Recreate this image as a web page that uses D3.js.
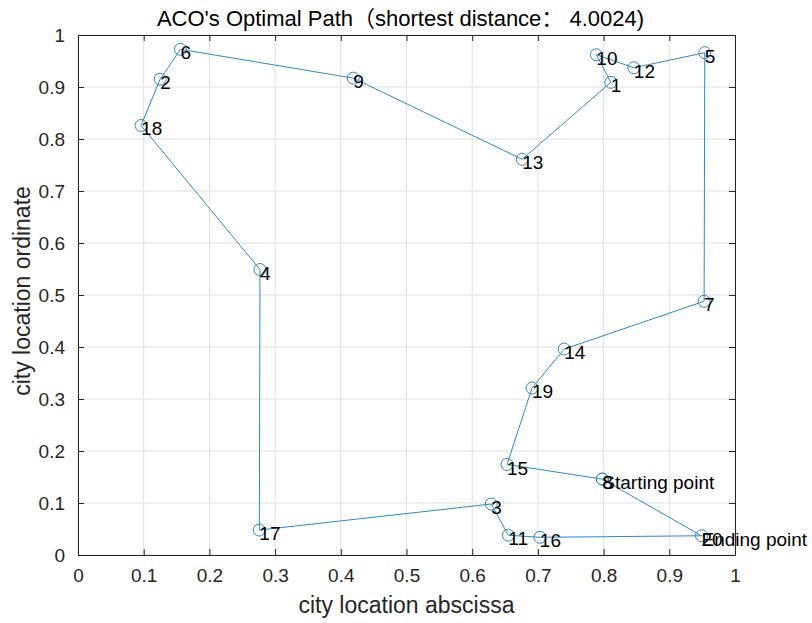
<!DOCTYPE html>
<html>
<head>
<meta charset="utf-8">
<script src="https://cdn.jsdelivr.net/npm/d3@7"></script>
<style>
  html, body { margin: 0; padding: 0; background: #fff; }
  svg { display: block; font-family: "Liberation Sans", Arial, "Noto Sans CJK SC", sans-serif; }
</style>
</head>
<body>
<svg id="chart" width="812" height="623"></svg>
<script>
// City ids and coordinates
const cityIds = [1, 2, 3, 4, 5, 6, 7, 8, 9, 10, 11, 12, 13, 14, 15, 16, 17, 18, 19, 20];
const cityX = [0.811, 0.125, 0.629, 0.277, 0.954, 0.156, 0.953, 0.798, 0.419, 0.789,
               0.655, 0.846, 0.676, 0.740, 0.653, 0.703, 0.276, 0.096, 0.691, 0.949];
const cityY = [0.909, 0.915, 0.098, 0.549, 0.966, 0.9725, 0.488, 0.146, 0.917, 0.962,
               0.038, 0.937, 0.761, 0.396, 0.174, 0.034, 0.048, 0.826, 0.321, 0.037];

// Best tour found by the colony (closed loop back to the start)
const tour = [8, 15, 19, 14, 7, 5, 12, 10, 1, 13, 9, 6, 2, 18, 4, 17, 3, 11, 16, 20, 8];

const xTicks = [0, 0.1, 0.2, 0.3, 0.4, 0.5, 0.6, 0.7, 0.8, 0.9, 1];
const yTicks = [0, 0.1, 0.2, 0.3, 0.4, 0.5, 0.6, 0.7, 0.8, 0.9, 1];

const titleText = "ACO's Optimal Path（shortest distance： 4.0024)";
const xLabelText = "city location abscissa";
const yLabelText = "city location ordinate";
const startLabel = "Starting point";
const endLabel = "Ending point";

const plotL = 78, plotR = 735, plotT = 35, plotB = 555;
const svg = d3.select("#chart");

const x = d3.scaleLinear().domain([0, 1]).range([plotL, plotR]);
const y = d3.scaleLinear().domain([0, 1]).range([plotB, plotT]);

const axisColor = "#262626";

// Grid
const grid = svg.append("g");
grid.selectAll(".gx").data(xTicks).join("line").attr("class", "gx")
  .attr("x1", d => x(d)).attr("x2", d => x(d))
  .attr("y1", plotT).attr("y2", plotB)
  .attr("stroke", "#e0e0e0").attr("stroke-width", 1);
grid.selectAll(".gy").data(yTicks).join("line").attr("class", "gy")
  .attr("y1", d => y(d)).attr("y2", d => y(d))
  .attr("x1", plotL).attr("x2", plotR)
  .attr("stroke", "#e0e0e0").attr("stroke-width", 1);

// Axes with inward ticks on all four sides
const fmt = d => d3.format("~g")(d);
function styleAxis(g) {
  g.select(".domain").attr("stroke", axisColor);
  g.selectAll(".tick line").attr("stroke", axisColor);
  g.selectAll(".tick text").attr("fill", axisColor).style("font-size", "19px")
    .style("font-family", "'Liberation Sans', Arial, sans-serif");
}
const axB = svg.append("g").attr("transform", `translate(0,${plotB})`)
  .call(d3.axisBottom(x).tickValues(xTicks).tickFormat(fmt).tickSizeInner(-6).tickSizeOuter(0).tickPadding(14));
styleAxis(axB);
const axL = svg.append("g").attr("transform", `translate(${plotL},0)`)
  .call(d3.axisLeft(y).tickValues(yTicks).tickFormat(fmt).tickSizeInner(-6).tickSizeOuter(0).tickPadding(13));
styleAxis(axL);
const axT = svg.append("g").attr("transform", `translate(0,${plotT})`)
  .call(d3.axisTop(x).tickValues(xTicks).tickFormat("").tickSizeInner(-6).tickSizeOuter(0));
styleAxis(axT);
const axR = svg.append("g").attr("transform", `translate(${plotR},0)`)
  .call(d3.axisRight(y).tickValues(yTicks).tickFormat("").tickSizeInner(-6).tickSizeOuter(0));
styleAxis(axR);

// Tour path
const lineColor = "#2f88c8";
const pts = tour.map(id => [cityX[id - 1], cityY[id - 1]]);
svg.append("path")
  .attr("d", d3.line().x(d => x(d[0])).y(d => y(d[1]))(pts))
  .attr("fill", "none").attr("stroke", lineColor).attr("stroke-width", 1);

// City markers
svg.append("g").selectAll("circle").data(tour).join("circle")
  .attr("cx", id => x(cityX[id - 1])).attr("cy", id => y(cityY[id - 1]))
  .attr("r", 6).attr("fill", "none").attr("stroke", lineColor).attr("stroke-width", 1);

// City labels, placed at each city like MATLAB's text()
const labels = svg.append("g").style("font-size", "19px").attr("fill", "#000");
labels.selectAll("text").data(cityIds).join("text")
  .attr("x", id => x(cityX[id - 1]))
  .attr("y", id => y(cityY[id - 1]) + 10)
  .text(id => id);
const startId = tour[0], endId = tour[tour.length - 2];
labels.append("text").attr("x", x(cityX[startId - 1])).attr("y", y(cityY[startId - 1]) + 10).text(startLabel);
labels.append("text").attr("x", x(cityX[endId - 1])).attr("y", y(cityY[endId - 1]) + 10).text(endLabel);

// Title and axis labels
svg.append("text").attr("x", (plotL + plotR) / 2 - 6).attr("y", 26)
  .attr("text-anchor", "middle").attr("fill", "#000").style("font-size", "22px").text(titleText);
svg.append("text").attr("x", (plotL + plotR) / 2).attr("y", 613)
  .attr("text-anchor", "middle").attr("fill", axisColor).style("font-size", "23px").text(xLabelText);
svg.append("text").attr("transform", `translate(30,${(plotT + plotB) / 2 - 4}) rotate(-90)`)
  .attr("text-anchor", "middle").attr("fill", axisColor).style("font-size", "23px").text(yLabelText);
</script>
</body>
</html>
